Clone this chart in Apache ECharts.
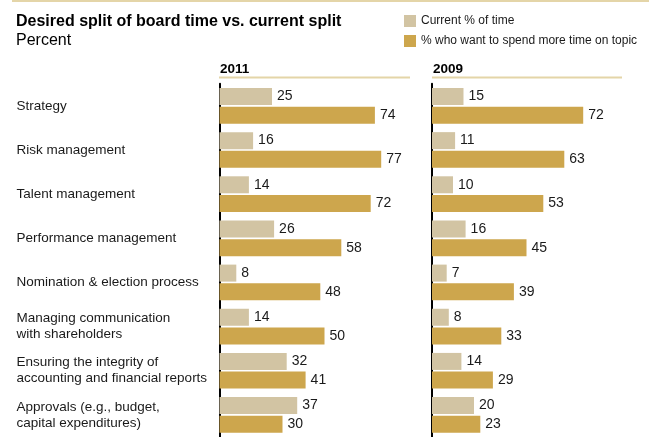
<!DOCTYPE html>
<html>
<head>
<meta charset="utf-8">
<script src="https://cdn.jsdelivr.net/npm/echarts@6/dist/echarts.min.js"></script>
<style>
  html, body { margin: 0; padding: 0; background: #fff; }
  #chart { width: 649px; height: 437px; }
</style>
</head>
<body>
<div id="chart"></div>
<script>
// Board agenda topics, top to bottom
const topics = [
  'Strategy',
  'Risk management',
  'Talent management',
  'Performance management',
  'Nomination & election process',
  'Managing communication\nwith shareholders',
  'Ensuring the integrity of\naccounting and financial reports',
  'Approvals (e.g., budget,\ncapital expenditures)'
];

const years = ['2011', '2009'];

// Current share of board time, %
const current2011 = [25, 16, 14, 26, 8, 14, 32, 37];
const current2009 = [15, 11, 10, 16, 7, 8, 14, 20];

// Share of directors wanting more time on the topic, %
const wantMore2011 = [74, 77, 72, 58, 48, 50, 41, 30];
const wantMore2009 = [72, 63, 53, 45, 39, 33, 29, 23];

const seriesNames = ['Current % of time', '% who want to spend more time on topic'];

const COLOR_CURRENT = '#d2c4a3';
const COLOR_WANT = '#cda64d';
const RULE_COLOR = '#e4d5a8';
const FONT = 'Liberation Sans, Arial, Helvetica, sans-serif';

const panelLeft = [219.5, 432];
const panelWidth = 210;

const chart = echarts.init(document.getElementById('chart'), null, { renderer: 'canvas' });

function barSeries(name, data, idx, color) {
  return {
    type: 'bar',
    name: name,
    xAxisIndex: idx,
    yAxisIndex: idx,
    data: data,
    barWidth: 17,
    barGap: '10%',
    itemStyle: { color: color },
    label: {
      show: true,
      position: 'right',
      distance: 5,
      color: '#1a1a1a',
      fontSize: 14,
      fontFamily: FONT
    },
    emphasis: { disabled: true },
    animation: false
  };
}

const grids = panelLeft.map(l => ({ left: l, width: panelWidth, top: 83.75, height: 356 }));

const xAxes = panelLeft.map((_, i) => ({
  type: 'value', gridIndex: i, min: 0, max: 100, show: false
}));

const yAxes = panelLeft.map((_, i) => ({
  type: 'category',
  gridIndex: i,
  data: topics,
  inverse: true,
  axisLine: { show: true, onZero: false, lineStyle: { color: '#000', width: 2 } },
  axisTick: { show: false },
  axisLabel: {
    show: i === 0,
    align: 'left',
    margin: 203,
    color: '#1a1a1a',
    fontSize: 13.5,
    lineHeight: 16,
    padding: [2, 0, 0, 0],
    fontFamily: FONT
  },
  splitLine: { show: false }
}));

const option = {
  backgroundColor: '#fff',
  title: [
    {
      text: 'Desired split of board time vs. current split',
      left: 11, top: 9,
      textStyle: { fontSize: 16, fontWeight: 'bold', color: '#000', fontFamily: FONT }
    },
    {
      text: 'Percent',
      left: 11, top: 28,
      textStyle: { fontSize: 16, fontWeight: 'normal', color: '#000', fontFamily: FONT }
    },
    {
      text: years[0],
      left: 215, top: 57,
      textStyle: { fontSize: 13.5, fontWeight: 'bold', color: '#000', fontFamily: FONT }
    },
    {
      text: years[1],
      left: 428, top: 57,
      textStyle: { fontSize: 13.5, fontWeight: 'bold', color: '#000', fontFamily: FONT }
    }
  ],
  legend: {
    data: seriesNames,
    orient: 'vertical',
    left: 399, top: 10,
    itemWidth: 12, itemHeight: 12, itemGap: 8,
    icon: 'rect',
    selectedMode: false,
    textStyle: { fontSize: 12, color: '#1a1a1a', fontFamily: FONT }
  },
  graphic: [
    { type: 'line', shape: { x1: 12, y1: 1, x2: 649, y2: 1 }, style: { stroke: RULE_COLOR, lineWidth: 2 } },
    { type: 'line', shape: { x1: 219, y1: 77.5, x2: 410, y2: 77.5 }, style: { stroke: RULE_COLOR, lineWidth: 2 } },
    { type: 'line', shape: { x1: 432, y1: 77.5, x2: 622, y2: 77.5 }, style: { stroke: RULE_COLOR, lineWidth: 2 } }
  ],
  grid: grids,
  xAxis: xAxes,
  yAxis: yAxes,
  series: [
    barSeries(seriesNames[0], current2011, 0, COLOR_CURRENT),
    barSeries(seriesNames[1], wantMore2011, 0, COLOR_WANT),
    barSeries(seriesNames[0], current2009, 1, COLOR_CURRENT),
    barSeries(seriesNames[1], wantMore2009, 1, COLOR_WANT)
  ]
};

chart.setOption(option);
</script>
</body>
</html>
